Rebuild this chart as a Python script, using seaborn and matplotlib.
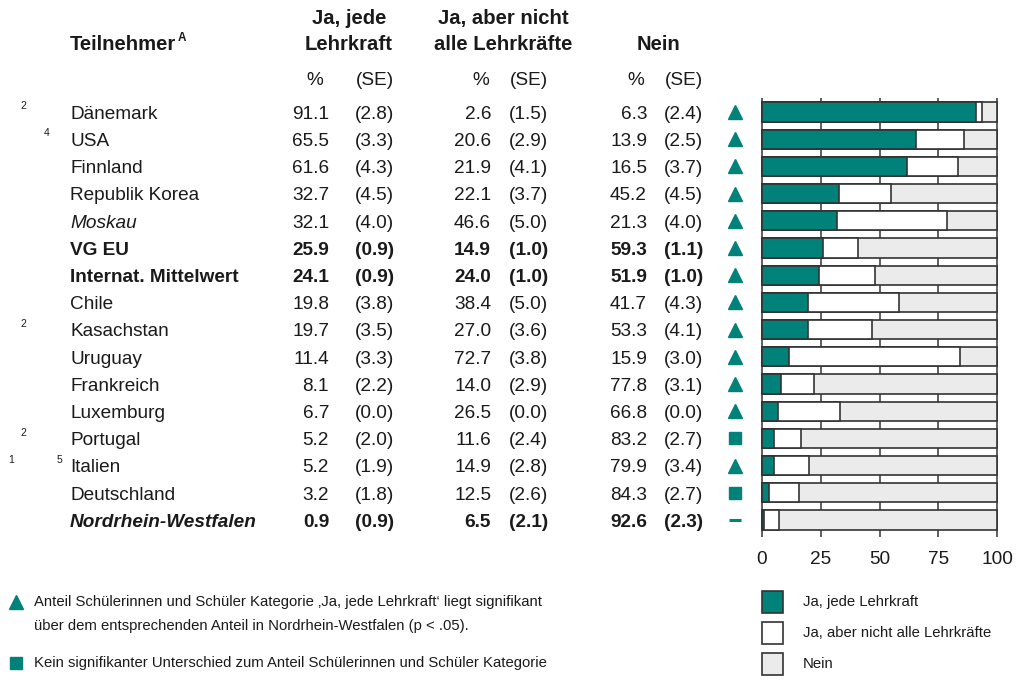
import matplotlib
matplotlib.use("Agg")
import matplotlib.pyplot as plt
import matplotlib.transforms as mtrans
from matplotlib.patches import Rectangle
from matplotlib.lines import Line2D
from matplotlib import font_manager
import seaborn as sns
import pandas as pd

# ---------------- data ----------------
names = ["Dänemark", "USA", "Finnland", "Republik Korea", "Moskau", "VG EU",
         "Internat. Mittelwert", "Chile", "Kasachstan", "Uruguay", "Frankreich",
         "Luxemburg", "Portugal", "Italien", "Deutschland", "Nordrhein-Westfalen"]
styles = ["normal", "normal", "normal", "normal", "italic", "bold", "bold",
          "normal", "normal", "normal", "normal", "normal", "normal", "normal",
          "normal", "bolditalic"]
notes = [["2"], ["4"], [], [], [], [], [], [], ["2"], [], [], [], ["2"], ["1", "5"], [], []]
ja = [91.1, 65.5, 61.6, 32.7, 32.1, 25.9, 24.1, 19.8, 19.7, 11.4, 8.1, 6.7, 5.2, 5.2, 3.2, 0.9]
ja_se = [2.8, 3.3, 4.3, 4.5, 4.0, 0.9, 0.9, 3.8, 3.5, 3.3, 2.2, 0.0, 2.0, 1.9, 1.8, 0.9]
aber = [2.6, 20.6, 21.9, 22.1, 46.6, 14.9, 24.0, 38.4, 27.0, 72.7, 14.0, 26.5, 11.6, 14.9, 12.5, 6.5]
aber_se = [1.5, 2.9, 4.1, 3.7, 5.0, 1.0, 1.0, 5.0, 3.6, 3.8, 2.9, 0.0, 2.4, 2.8, 2.6, 2.1]
nein = [6.3, 13.9, 16.5, 45.2, 21.3, 59.3, 51.9, 41.7, 53.3, 15.9, 77.8, 66.8, 83.2, 79.9, 84.3, 92.6]
nein_se = [2.4, 2.5, 3.7, 4.5, 4.0, 1.1, 1.0, 4.3, 4.1, 3.0, 3.1, 0.0, 2.7, 3.4, 2.7, 2.3]
sig = ["up"] * 12 + ["eq", "up", "eq", "ref"]
xticks = [0, 25, 50, 75, 100]
col_headers = [["Ja, jede", "Lehrkraft"], ["Ja, aber nicht", "alle Lehrkräfte"], ["Nein"]]
legend_labels = ["Ja, jede Lehrkraft", "Ja, aber nicht alle Lehrkräfte", "Nein"]
sig_text_up = ["Anteil Schülerinnen und Schüler Kategorie \u201aJa, jede Lehrkraft\u2018 liegt signifikant",
               "über dem entsprechenden Anteil in Nordrhein-Westfalen (p < .05)."]
sig_text_eq = ["Kein signifikanter Unterschied zum Anteil Schülerinnen und Schüler Kategorie"]

# ---------------- style ----------------
TEAL = "#00827a"
GRAY = "#ebebeb"
EDGE = "#333333"
TXT = "#1a1a1a"
sns.set_theme(style="white")
plt.rcParams["font.family"] = ["Liberation Sans", "DejaVu Sans"]
FS = 13.65
HFS = 14.6

avail = {f.name for f in font_manager.fontManager.ttflist}
if "Liberation Sans Narrow" in avail:
    NARROW = ["Liberation Sans Narrow", "Liberation Sans"]
    NFS = 12.0
else:
    NARROW = ["Liberation Sans", "DejaVu Sans"]
    NFS = 10.7

W, H = 1019, 681
fig = plt.figure(figsize=(W / 100, H / 100), dpi=100)


def fx(px):
    return px / W


def fy(py):
    return 1 - py / H


ax = fig.add_axes([fx(761), fy(537), fx(998) - fx(761), (537 - 98) / H])

df = pd.DataFrame({"name": names, "ja": ja, "aber": aber, "nein": nein})
df["cum2"] = df["ja"] + df["aber"]
df["cum3"] = df["cum2"] + df["nein"]

for col, c in [("cum3", GRAY), ("cum2", "white"), ("ja", TEAL)]:
    sns.barplot(data=df, x=col, y="name", orient="h", color=c, saturation=1,
                edgecolor=EDGE, linewidth=1.2, width=0.7, ax=ax, zorder=3)

tr = mtrans.blended_transform_factory(fig.transFigure, ax.transData)

# table text
for i, name in enumerate(names):
    st = styles[i]
    w = "bold" if "bold" in st else "normal"
    s = "italic" if "italic" in st else "normal"
    ax.text(fx(70), i + 0.25, name, transform=tr, ha="left", va="baseline",
            fontsize=FS, fontweight=w, fontstyle=s, color=TXT, clip_on=False)
    for d in notes[i]:
        ax.text(fx(11 + (int(d) - 1) * 12), i - 0.1, d, transform=tr, ha="center",
                va="baseline", fontsize=7.5, color=TXT, clip_on=False)
    cols = [(ja[i], ja_se[i], 329, 394), (aber[i], aber_se[i], 491, 548),
            (nein[i], nein_se[i], 647, 703)]
    for v, se, xr, xs in cols:
        ax.text(fx(xr), i + 0.25, f"{v:.1f}", transform=tr, ha="right", va="baseline",
                fontsize=FS, fontweight=w, color=TXT, clip_on=False)
        ax.text(fx(xs), i + 0.25, f"({se:.1f})", transform=tr, ha="right", va="baseline",
                fontsize=FS, fontweight=w, color=TXT, clip_on=False)
    mk = {"up": dict(marker="^", ms=10.5), "eq": dict(marker="s", ms=8.3),
          "ref": dict(marker="_", ms=8, mew=2.2)}[sig[i]]
    ax.plot([fx(735)], [i], transform=tr, linestyle="none", color=TEAL,
            mec=TEAL, clip_on=False, **mk)

# headers
fig.text(fx(70), fy(50), "Teilnehmer", ha="left", va="baseline", fontsize=HFS,
         fontweight="bold", color=TXT)
fig.text(fx(178), fy(41), "A", ha="left", va="baseline", fontsize=8.5,
         fontweight="bold", color=TXT)
for hdr, xc in zip(col_headers, [349, 503, 658]):
    lines = hdr if len(hdr) == 2 else [""] + hdr
    for ln, yb in zip(lines, [24, 50]):
        if ln:
            fig.text(fx(xc), fy(yb), ln, ha="center", va="baseline", fontsize=HFS,
                     fontweight="bold", color=TXT)
for xp, xs in [(315, 394), (481, 548), (636, 703)]:
    fig.text(fx(xp), fy(85), "%", ha="center", va="baseline", fontsize=FS, color=TXT)
    fig.text(fx(xs), fy(85), "(SE)", ha="right", va="baseline", fontsize=FS, color=TXT)

# axes styling
ax.set_xlim(-0.4, 100.4)
ax.set_ylim(15.625, -0.515)
ax.set_xticks(xticks)
ax.set_xticklabels([str(t) for t in xticks])
ax.set_yticks([])
ax.set_xlabel("")
ax.set_ylabel("")
ax.grid(axis="x", color="#444444", linewidth=1.2, zorder=0)
ax.grid(axis="y", visible=False)
ax.set_axisbelow(True)
for sp in ax.spines.values():
    sp.set_visible(False)
ax.tick_params(axis="x", length=0, pad=10, labelsize=FS, labelcolor=TXT)
ax.set_facecolor("none")

# right legend
for lab, c, yc in zip(legend_labels, [TEAL, "white", GRAY], [602, 633, 664]):
    fig.add_artist(Rectangle((fx(762), fy(yc + 11)), fx(21), 22 / H, transform=fig.transFigure,
                             facecolor=c, edgecolor=EDGE, linewidth=1.2))
    fig.text(fx(803), fy(yc), lab, ha="left", va="center", fontsize=NFS,
             family=NARROW, color=TXT)

# significance notes
fig.add_artist(Line2D([fx(16)], [fy(602)], marker="^", ms=10, color=TEAL,
                      linestyle="none", transform=fig.transFigure))
fig.add_artist(Line2D([fx(16)], [fy(663)], marker="s", ms=8, color=TEAL,
                      linestyle="none", transform=fig.transFigure))
for ln, yc in zip(sig_text_up, [602, 626]):
    fig.text(fx(34), fy(yc), ln, ha="left", va="center", fontsize=NFS,
             family=NARROW, color=TXT)
for ln, yc in zip(sig_text_eq, [663]):
    fig.text(fx(34), fy(yc), ln, ha="left", va="center", fontsize=NFS,
             family=NARROW, color=TXT)

fig.savefig("out.png", dpi=100, facecolor="white")
